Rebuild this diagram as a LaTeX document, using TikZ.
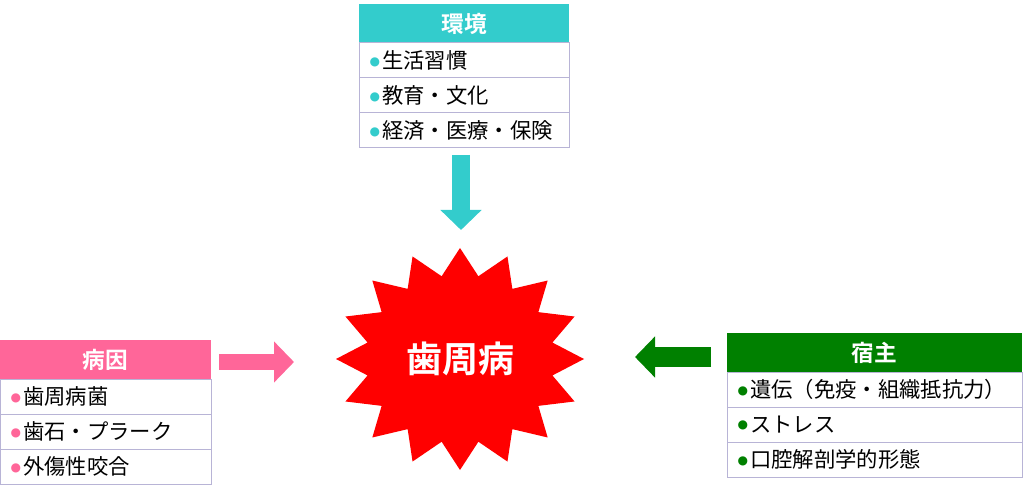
\documentclass[tikz,border=0pt]{standalone}
\usepackage{fontspec}
\setmainfont{Noto Sans CJK JP}[BoldFont={Noto Sans CJK JP Bold}]
\newfontfamily\dejavu{DejaVu Sans}
\usetikzlibrary{positioning,arrows.meta}
\definecolor{envcol}{HTML}{33CCCC}
\definecolor{causecol}{HTML}{FF6699}
\definecolor{hostcol}{HTML}{008000}
\definecolor{linecol}{HTML}{B8B4D6}
\newcommand{\dotmark}[1]{\textcolor{#1}{\raisebox{2.6pt}{\dejavu\fontsize{9pt}{9pt}\selectfont ●}}\hspace{1.5pt}}

\begin{document}
\begin{tikzpicture}[x=0.75pt,y=-0.75pt,
	head/.style={fill=#1,text=white,font=\fontsize{17pt}{17pt}\selectfont\bfseries,minimum height=29.25pt,inner sep=0pt,outer sep=0pt},
	item/.style={draw=linecol,line width=0.75pt,minimum height=26.25pt,align=left,inner xsep=8pt,inner ysep=0pt,outer sep=0pt,font=\fontsize{16pt}{16pt}\selectfont},
	fat/.style={draw=#1,-{Triangle[length=15pt,width=30pt]}}]
	\useasboundingbox (0,0) rectangle (1024,495);
	% environment
		\node[head=envcol,minimum width=157.5pt] (env) at (464,23.5) {環境};
		\node[item,text width=141.5pt,below=0pt of env] (env1) {\dotmark{envcol}生活習慣};
		\node[item,text width=141.5pt,below=0pt of env1] (env2) {\dotmark{envcol}教育・文化};
		\node[item,text width=141.5pt,below=0pt of env2] (env3) {\dotmark{envcol}経済・医療・保険};
	% cause
		\node[head=causecol,minimum width=158.25pt] (cause) at (105.5,359.5) {病因};
		\node[item,text width=142.25pt,below=0pt of cause] (cause1) {\dotmark{causecol}歯周病菌};
		\node[item,text width=142.25pt,below=0pt of cause1] (cause2) {\dotmark{causecol}歯石・プラーク};
		\node[item,text width=142.25pt,below=0pt of cause2] (cause3) {\dotmark{causecol}外傷性咬合};
	% host
		\node[head=hostcol,minimum width=221.25pt] (host) at (874.5,352.5) {宿主};
		\node[item,text width=205.25pt,below=0pt of host] (host1) {\dotmark{hostcol}遺伝（免疫・組織抵抗力）};
		\node[item,text width=205.25pt,below=0pt of host1] (host2) {\dotmark{hostcol}ストレス};
		\node[item,text width=205.25pt,below=0pt of host2] (host3) {\dotmark{hostcol}口腔解剖学的形態};
	% burst
		\begin{scope}[shift={(460,359)}]
			\fill[red] (0:124 and 111) \foreach \i [evaluate=\i as \r using {mod(\i,2)==0 ? 1 : 0.76}] in {1,...,31} { -- (\i*11.25:{124*\r} and {111*\r}) } -- cycle;
		\end{scope}
		\node[text=white,font=\fontsize{27pt}{27pt}\selectfont\bfseries] (perio) at (460,359) {歯周病};
	% arrows
		\coordinate (envtail) at (461,155);
		\coordinate (envtip) at (461,230);
		\coordinate (causetail) at (219,362);
		\coordinate (causetip) at (294,362);
		\coordinate (hosttail) at (711,357);
		\coordinate (hosttip) at (635,357);
		\draw[fat=envcol,line width=13.5pt] (envtail) -- (envtip);
		\draw[fat=causecol,line width=12pt] (causetail) -- (causetip);
		\draw[fat=hostcol,line width=15pt] (hosttail) -- (hosttip);
\end{tikzpicture}
\end{document}
